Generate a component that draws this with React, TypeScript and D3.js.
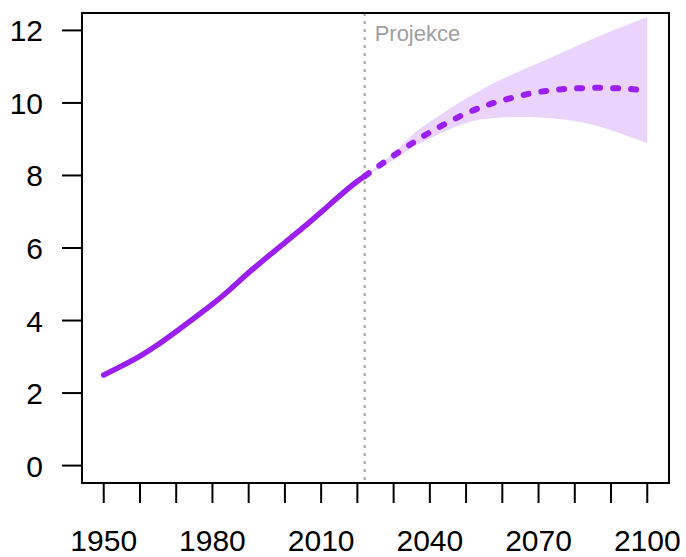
import * as d3 from "d3";
import { useEffect, useRef } from "react";

// World population, billions (UN WPP)
const histYears = [1950, 1955, 1960, 1965, 1970, 1975, 1980, 1985, 1990, 1995, 2000, 2005, 2010, 2015, 2020, 2022];
const histPop = [2.5, 2.75, 3.02, 3.34, 3.7, 4.07, 4.45, 4.87, 5.32, 5.74, 6.15, 6.56, 6.99, 7.43, 7.84, 7.98];

const projYears = [2022, 2030, 2035, 2040, 2050, 2060, 2070, 2080, 2090, 2100];
const projPop = [7.98, 8.55, 8.88, 9.19, 9.71, 10.07, 10.3, 10.4, 10.41, 10.35];
const projLow = [7.98, 8.43, 8.76, 9.02, 9.45, 9.6, 9.6, 9.5, 9.25, 8.89];
const projHigh = [7.98, 8.62, 9.1, 9.48, 10.12, 10.66, 11.1, 11.55, 11.98, 12.37];

const yTicks = [0, 2, 4, 6, 8, 10, 12];
const xMinorTicks = d3.range(1950, 2101, 10);
const xLabels = [1950, 1980, 2010, 2040, 2070, 2100];
const projStart = 2022;
const projLabel = "Projekce";

export default function App() {
  const ref = useRef<HTMLDivElement>(null);
  const width = 686,
    height = 557;
  const left = 82,
    right = 669,
    top = 13,
    bottom = 483;
  const purple = "#9b1ff0";
  const font = "'Liberation Sans', Arial, sans-serif";

  useEffect(() => {
    const root = d3.select(ref.current);
    root.selectAll("*").remove();

    const svg = root
      .append("svg")
      .attr("width", width)
      .attr("height", height)
      .style("position", "absolute")
      .style("left", "0px")
      .style("top", "0px")
      .style("background", "#fff");

    const x = d3.scaleLinear().domain([1944, 2106]).range([left, right]);
    const y = d3.scaleLinear().domain([-0.48, 12.48]).range([bottom, top]);

    // uncertainty band
    const band = d3
      .area<number>()
      .x((d) => x(d))
      .y0((d, i) => y(projLow[i]))
      .y1((d, i) => y(projHigh[i]))
      .curve(d3.curveNatural);
    svg.append("path").attr("d", band(projYears)).attr("fill", "#ead4fb");

    // projection start marker
    svg
      .append("line")
      .attr("x1", x(projStart))
      .attr("x2", x(projStart))
      .attr("y1", top)
      .attr("y2", bottom)
      .attr("stroke", "#a6a6a6")
      .attr("stroke-width", 2)
      .attr("stroke-dasharray", "3,5");

    svg
      .append("text")
      .attr("x", x(projStart) + 10)
      .attr("y", 41)
      .attr("font-family", font)
      .attr("font-size", 22)
      .attr("fill", "#a0a0a0")
      .text(projLabel);

    const line = d3
      .line<number>()
      .x((d) => x(d))
      .curve(d3.curveCatmullRom);

    svg
      .append("path")
      .attr("d", line.y((d, i) => y(histPop[i]))(histYears))
      .attr("fill", "none")
      .attr("stroke", purple)
      .attr("stroke-width", 5.5)
      .attr("stroke-linecap", "round");

    svg
      .append("path")
      .attr("d", line.curve(d3.curveNatural).y((d, i) => y(projPop[i]))(projYears))
      .attr("fill", "none")
      .attr("stroke", purple)
      .attr("stroke-width", 6)
      .attr("stroke-linecap", "round")
      .attr("stroke-dasharray", "5,13");

    // frame
    svg
      .append("rect")
      .attr("x", left)
      .attr("y", top)
      .attr("width", right - left)
      .attr("height", bottom - top)
      .attr("fill", "none")
      .attr("stroke", "#000")
      .attr("stroke-width", 2);

    // y axis
    const gy = svg.append("g");
    gy.selectAll("line")
      .data(yTicks)
      .join("line")
      .attr("x1", left - 20)
      .attr("x2", left)
      .attr("y1", (d) => y(d))
      .attr("y2", (d) => y(d))
      .attr("stroke", "#000")
      .attr("stroke-width", 2);
    gy.selectAll("text")
      .data(yTicks)
      .join("text")
      .attr("x", 43)
      .attr("y", (d) => y(d) + 11)
      .attr("text-anchor", "end")
      .attr("font-family", font)
      .attr("font-size", 30)
      .text((d) => d);

    // x axis
    const gx = svg.append("g");
    gx.selectAll("line")
      .data(xMinorTicks)
      .join("line")
      .attr("x1", (d) => x(d))
      .attr("x2", (d) => x(d))
      .attr("y1", bottom)
      .attr("y2", bottom + 20)
      .attr("stroke", "#000")
      .attr("stroke-width", 2);
    gx.selectAll("text")
      .data(xLabels)
      .join("text")
      .attr("x", (d) => x(d))
      .attr("y", 551)
      .attr("text-anchor", "middle")
      .attr("font-family", font)
      .attr("font-size", 30)
      .text((d) => d);
  }, []);

  return <div ref={ref}></div>;
}
